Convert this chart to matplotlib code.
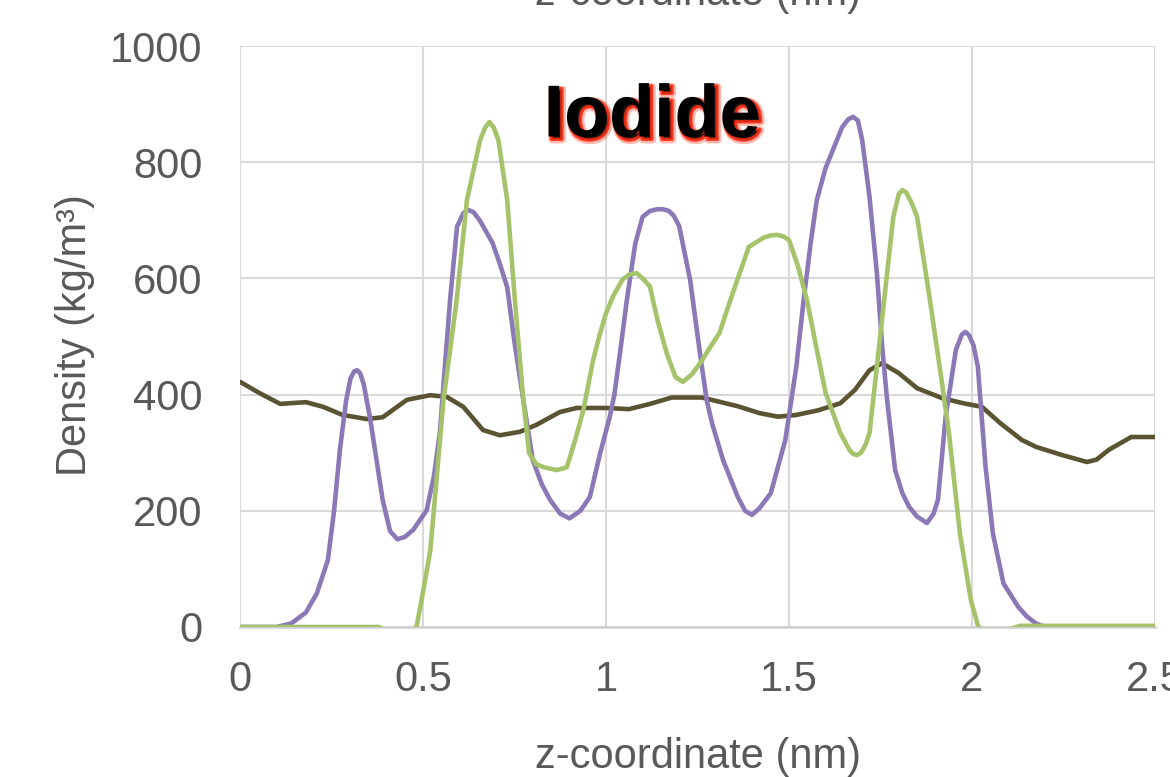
import matplotlib
matplotlib.use('Agg')
import matplotlib.pyplot as plt
import matplotlib.patheffects as pe

plt.rcParams['font.family'] = ['Liberation Sans', 'DejaVu Sans']

# purple series
purple_x = [0.00, 0.10, 0.14, 0.18, 0.21, 0.24, 0.257, 0.273, 0.29, 0.302, 0.312, 0.32, 0.328, 0.338,
            0.355, 0.37, 0.39, 0.41, 0.43, 0.45, 0.473, 0.51, 0.53, 0.546, 0.56, 0.574, 0.593, 0.61,
            0.623, 0.638, 0.655, 0.69, 0.71, 0.73, 0.75, 0.774, 0.80, 0.825, 0.847, 0.875, 0.90,
            0.93, 0.956, 0.984, 1.01, 1.023, 1.04, 1.057, 1.08, 1.10, 1.12, 1.14, 1.156, 1.172, 1.185,
            1.20, 1.23, 1.242, 1.257, 1.275, 1.29, 1.32, 1.36, 1.38, 1.399, 1.42, 1.45, 1.49, 1.52,
            1.54, 1.56, 1.576, 1.60, 1.62, 1.645, 1.662, 1.675, 1.688, 1.70, 1.72, 1.74, 1.755, 1.768,
            1.79, 1.81, 1.828, 1.85, 1.877, 1.895, 1.907, 1.928, 1.956, 1.972, 1.982, 1.992, 2.004,
            2.016, 2.037, 2.057, 2.086, 2.126, 2.15, 2.175, 2.2, 2.5]
purple_y = [0, 0, 6, 25, 58, 115, 200, 305, 390, 428, 440, 442, 437, 418,
            361, 300, 218, 165, 151, 155, 167, 201, 260, 334, 450, 563, 689, 712,
            718, 714, 700, 661, 625, 585, 490, 391, 287, 245, 219, 195, 187,
            200, 224, 299, 361, 400, 480, 563, 660, 706, 716, 719, 719, 716, 708,
            690, 597, 540, 470, 391, 350, 287, 224, 200, 193, 205, 230, 322, 448,
            563, 665, 735, 790, 821, 860, 874, 878, 872, 838, 740, 610, 480, 391,
            270, 230, 207, 190, 179, 195, 219, 362, 477, 503, 508, 502, 485,
            448, 276, 161, 75, 35, 18, 6, 0, 0]

# green series
green_x = [0.00, 0.38, 0.40, 0.43, 0.46, 0.483, 0.50, 0.52, 0.556, 0.592, 0.62, 0.656, 0.67, 0.681,
           0.693, 0.706, 0.73, 0.751, 0.774, 0.79, 0.81, 0.83, 0.866, 0.893, 0.915, 0.938, 0.965,
           0.984, 1.0, 1.02, 1.045, 1.065, 1.084, 1.10, 1.12, 1.14, 1.166, 1.19, 1.21, 1.235, 1.257,
           1.28, 1.31, 1.34, 1.39, 1.43, 1.45, 1.467, 1.485, 1.50, 1.525, 1.549, 1.575, 1.60, 1.64,
           1.665, 1.675, 1.686, 1.697, 1.71, 1.72, 1.74, 1.76, 1.785, 1.80, 1.81, 1.82, 1.835, 1.85,
           1.885, 1.918, 1.937, 1.967, 1.997, 2.016, 2.04, 2.07, 2.10, 2.13, 2.5]
green_y = [0, 0, -8, -30, -25, 3, 60, 132, 391, 563, 735, 838, 860, 869,
           860, 838, 735, 563, 391, 299, 280, 275, 270, 275, 320, 373, 460,
           506, 540, 570, 598, 607, 609, 600, 586, 530, 471, 430, 422, 435, 454,
           477, 506, 563, 654, 670, 674, 675, 672, 666, 620, 563, 480, 403, 334,
           305, 298, 296, 300, 315, 334, 448, 563, 706, 745, 752, 748, 730, 706,
           563, 420, 334, 161, 46, 3, -20, -25, -5, 2, 2]

# dark olive series
olive_x = [0.00, 0.055, 0.11, 0.18, 0.227, 0.28, 0.346, 0.39, 0.456, 0.52, 0.565, 0.61, 0.664, 0.71,
           0.765, 0.81, 0.874, 0.92, 1.0, 1.063, 1.12, 1.18, 1.262, 1.36, 1.42, 1.47, 1.52, 1.58,
           1.64, 1.68, 1.72, 1.754, 1.80, 1.85, 1.918, 1.977, 2.027, 2.077, 2.136, 2.175, 2.246,
           2.314, 2.34, 2.374, 2.435, 2.5]
olive_y = [422, 402, 384, 387, 379, 365, 358, 361, 391, 399, 396, 379, 339, 330,
           336, 348, 370, 377, 377, 375, 384, 395, 395, 380, 368, 362, 365, 373,
           385, 408, 442, 454, 437, 411, 394, 385, 379, 351, 322, 310, 296,
           284, 288, 305, 327, 327]

x_ticks = [0, 0.5, 1, 1.5, 2, 2.5]
x_tick_labels = ['0', '0.5', '1', '1.5', '2', '2.5']
y_ticks = [0, 200, 400, 600, 800, 1000]

text_col = '#595959'
fig = plt.figure(figsize=(11.7, 7.77), dpi=100)
ax = fig.add_axes([240 / 1170, 1 - 627 / 777, 915 / 1170, 581 / 777])

line_kw = dict(lw=3.3, solid_capstyle='round', solid_joinstyle='round')
ax.plot(olive_x, olive_y, color='#5b5433', zorder=3, **line_kw)
ax.plot(purple_x, purple_y, color='#8b78b6', zorder=4, **line_kw)
ax.plot(green_x, green_y, color='#a5c36a', zorder=5, **line_kw)

ax.set_xlim(0, 2.5)
ax.set_ylim(0, 1000)
ax.set_xticks(x_ticks, x_tick_labels)
ax.set_yticks(y_ticks)
ax.tick_params(length=0, labelsize=30, colors=text_col)
ax.tick_params(axis='x', pad=24)
ax.tick_params(axis='y', pad=27)
ax.grid(True, color='#d9d9d9', lw=1.5)
ax.set_axisbelow(True)
for s in ['top', 'right', 'left']:
    ax.spines[s].set_visible(False)
ax.spines['bottom'].set_color('#d0d0d0')
ax.spines['bottom'].set_linewidth(1.8)

# axis titles (the top one is cut by the image edge, as in the source)
fig.text(698 / 1170, 1 - 768 / 777, 'z-coordinate (nm)', fontsize=30, color=text_col,
         ha='center', va='baseline')
fig.text(698 / 1170, 1 - 5 / 777, 'z-coordinate (nm)', fontsize=30, color=text_col,
         ha='center', va='baseline')
fig.text(75 / 1170, 1 - 335 / 777, 'Density (kg/m³)', fontsize=30, color=text_col,
         ha='center', va='center', rotation=90)

ax.text(652 / 1170, 1 - 117 / 777, 'Iodide', transform=fig.transFigure, fontsize=53,
        fontweight='bold', color='black', ha='center', va='center', zorder=10,
        path_effects=[pe.Stroke(offset=(2.5, -2.5), linewidth=5, foreground='#ff3b20', alpha=0.35),
                      pe.Stroke(offset=(2, -2), linewidth=2.5, foreground='#ff2a10', alpha=0.85),
                      pe.Normal()])

fig.savefig('out.png', dpi=100)
